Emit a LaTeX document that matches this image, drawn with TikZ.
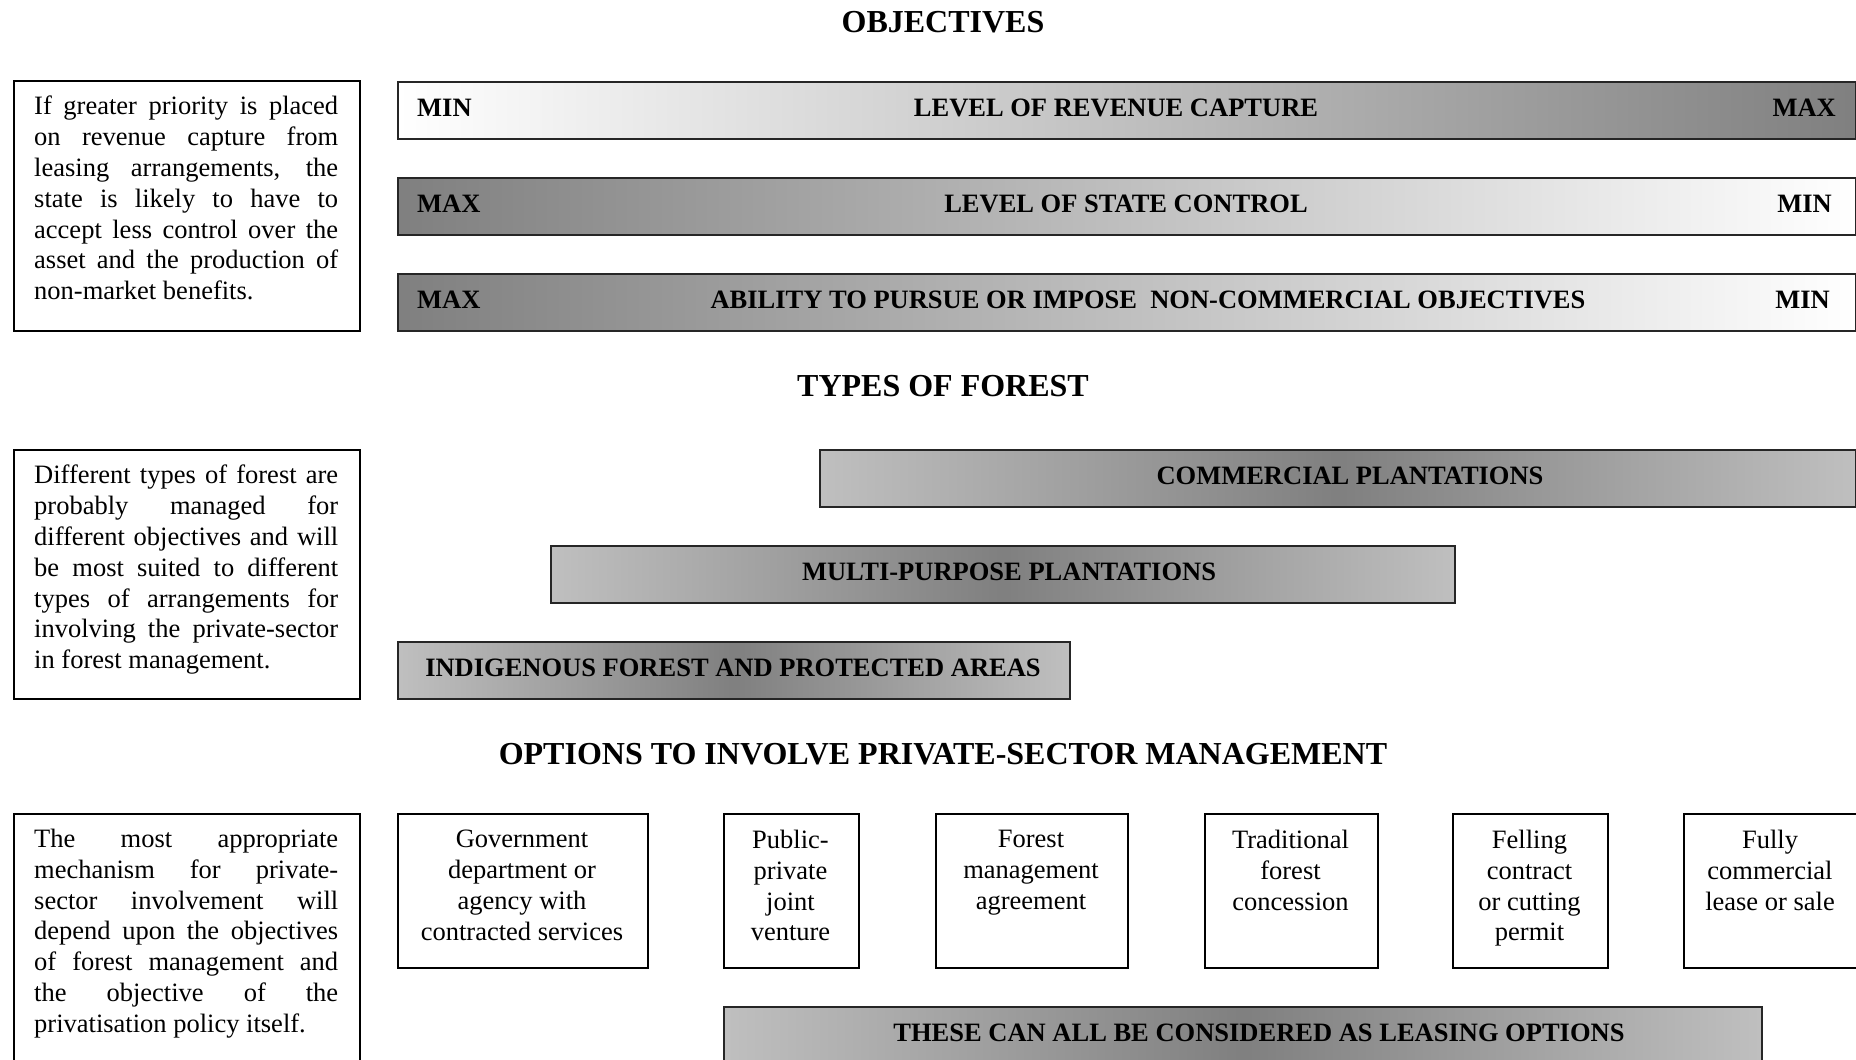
\documentclass[tikz,border=0pt]{standalone}
\usepackage{fontspec}
\setmainfont{Liberation Serif}
\hyphenpenalty=10000
\exhyphenpenalty=10000
\begin{document}
\begin{tikzpicture}[x=1pt,y=-1pt,
  box/.style={draw=black,line width=1.8pt,anchor=north west,inner sep=0pt},
  note/.style={text width=304pt,align=justify,inner xsep=21pt,inner ysep=0pt,anchor=north west,font=\fontsize{26.5}{30.8}\selectfont},
  bar/.style={draw=black!85,line width=2.4pt,anchor=north west,inner sep=0pt},
  lgrad/.style={bar,left color=white,right color=black!50},
  rgrad/.style={bar,left color=black!50,right color=white},
  mgrad/.style={bar,left color=black!25,right color=black!25,middle color=black!50},
  btxt/.style={font=\bfseries\fontsize{26.5}{30}\selectfont,inner sep=0pt},
  head/.style={font=\bfseries\fontsize{32}{36}\selectfont,inner sep=0pt},
  otxt/.style={align=center,font=\fontsize{26.5}{30.8}\selectfont,inner sep=0pt,anchor=north}
]
\useasboundingbox[fill=white] (0,0) rectangle (1856,1060);

% Headings
\node[head] (h1) at (943,22) {OBJECTIVES};
\node[head] (h2) at (943,386) {TYPES OF FOREST};
\node[head] (h3) at (943,754) {OPTIONS TO INVOLVE PRIVATE-SECTOR MANAGEMENT};

% Left notes
\node[box,minimum width=346pt,minimum height=250pt] (n1) at (13,80) {};
\node[note] (n1t) at (13,96) {If greater priority is placed\linebreak on revenue capture from\linebreak leasing arrangements, the\linebreak state is likely to have to\linebreak accept less control over the\linebreak asset and the production of\linebreak non-market benefits.};
\node[box,minimum width=346pt,minimum height=249pt] (n2) at (13,449) {};
\node[note] (n2t) at (13,465) {Different types of forest are\linebreak probably managed for\linebreak different objectives and will\linebreak be most suited to different\linebreak types of arrangements for\linebreak involving the private-sector\linebreak in forest management.};
\node[box,minimum width=346pt,minimum height=260pt] (n3) at (13,813) {};
\node[note] (n3t) at (13,829) {The most appropriate\linebreak mechanism for private-\linebreak sector involvement will\linebreak depend upon the objectives\linebreak of forest management and\linebreak the objective of the\linebreak privatisation policy itself.};

% Objective bars
\node[lgrad,minimum width=1458pt,minimum height=57pt] (b1) at (397,81) {};
\node[btxt,anchor=west] (b1l) at (417,108) {MIN};
\node[btxt] (b1c) at (1116,108) {LEVEL OF REVENUE CAPTURE};
\node[btxt,anchor=east] (b1r) at (1836,108) {MAX};

\node[rgrad,minimum width=1458pt,minimum height=57pt] (b2) at (397,177) {};
\node[btxt,anchor=west] (b2l) at (417,204) {MAX};
\node[btxt] (b2c) at (1126,204) {LEVEL OF STATE CONTROL};
\node[btxt,anchor=east] (b2r) at (1832,204) {MIN};

\node[rgrad,minimum width=1458pt,minimum height=57pt] (b3) at (397,273) {};
\node[btxt,anchor=west] (b3l) at (417,300) {MAX};
\node[btxt] (b3c) at (1148,300) {ABILITY TO PURSUE OR IMPOSE \ NON-COMMERCIAL OBJECTIVES};
\node[btxt,anchor=east] (b3r) at (1830,300) {MIN};

% Forest bars
\node[mgrad,minimum width=1036pt,minimum height=57pt] (f1) at (819,449) {};
\node[btxt] (f1t) at (1350,476) {COMMERCIAL PLANTATIONS};
\node[mgrad,minimum width=904pt,minimum height=57pt] (f2) at (550,545) {};
\node[btxt] (f2t) at (1009,572) {MULTI-PURPOSE PLANTATIONS};
\node[mgrad,minimum width=672pt,minimum height=57pt] (f3) at (397,641) {};
\node[btxt] (f3t) at (733,668) {INDIGENOUS FOREST AND PROTECTED AREAS};

% Option boxes
\node[box,minimum width=250pt,minimum height=154pt] (o1) at (397,813) {};
\node[otxt] (o1t) at (522,830) {Government\\department or\\agency with\\contracted services};
\node[box,minimum width=135pt,minimum height=154pt] (o2) at (723,813) {};
\node[otxt] (o2t) at (790.5,830) {Public-\\private\\joint\\venture};
\node[box,minimum width=192pt,minimum height=154pt] (o3) at (935,813) {};
\node[otxt] (o3t) at (1031,830) {Forest\\management\\agreement};
\node[box,minimum width=173pt,minimum height=154pt] (o4) at (1204,813) {};
\node[otxt] (o4t) at (1290.5,830) {Traditional\\forest\\concession};
\node[box,minimum width=155pt,minimum height=154pt] (o5) at (1452,813) {};
\node[otxt] (o5t) at (1529.5,830) {Felling\\contract\\or cutting\\permit};
\node[box,minimum width=175pt,minimum height=154pt] (o6) at (1683,813) {};
\node[otxt] (o6t) at (1770,830) {Fully\\commercial\\lease or sale};

% Leasing bar
\node[mgrad,minimum width=1038pt,minimum height=70pt] (lb) at (723,1006) {};
\node[btxt] (lbt) at (1259,1033) {THESE CAN ALL BE CONSIDERED AS LEASING OPTIONS};
\end{tikzpicture}
\end{document}
